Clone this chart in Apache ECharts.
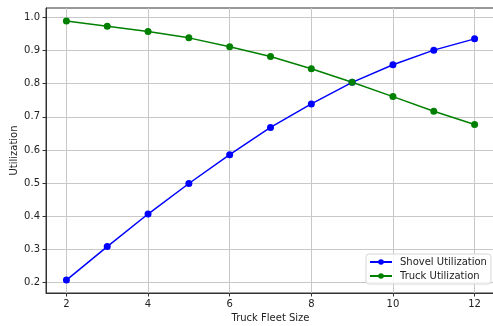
<!DOCTYPE html>
<html><head><meta charset="utf-8">
<script src="https://cdn.jsdelivr.net/npm/echarts@6/dist/echarts.min.js"></script>
<style>html,body{margin:0;padding:0;background:#fff}#c{width:493px;height:326px}</style>
</head><body><div id="c"></div>
<script>
const fleetSize = [2, 3, 4, 5, 6, 7, 8, 9, 10, 11, 12];
const shovelUtil = [0.208, 0.309, 0.407, 0.499, 0.586, 0.668, 0.739, 0.804, 0.857, 0.901, 0.935];
const truckUtil = [0.989, 0.973, 0.957, 0.938, 0.911, 0.882, 0.845, 0.804, 0.761, 0.717, 0.677];
const xTicks = [2, 4, 6, 8, 10, 12];
const yTicks = [0.2, 0.3, 0.4, 0.5, 0.6, 0.7, 0.8, 0.9, 1.0];

const font = 'DejaVu Sans';
const chart = echarts.init(document.getElementById('c'), null, {renderer: 'canvas'});
const pair = (xs, ys) => xs.map((x, i) => [x, ys[i]]);
chart.setOption({
  animation: false,
  textStyle: {fontFamily: font},
  grid: {left: 46, top: 8, width: 449, height: 285, outerBoundsMode: 'none', containLabel: false,
    show: true, borderColor: '#333', borderWidth: 1, backgroundColor: 'transparent'},
  xAxis: {
    type: 'value', min: 1.5, max: 12.5,
    name: 'Truck Fleet Size', nameLocation: 'middle', nameGap: 20, nameMoveOverlap: false,
    nameTextStyle: {fontFamily: font, fontSize: 10, color: '#222'},
    axisLine: {show: true, lineStyle: {color: '#333', width: 1}},
    axisTick: {show: true, length: 3.5, customValues: xTicks, lineStyle: {color: '#333'}},
    axisLabel: {customValues: xTicks, fontFamily: font, fontSize: 10, color: '#222', margin: 6},
    splitLine: {show: true, lineStyle: {color: '#c8c8c8', width: 1}}
  },
  yAxis: {
    type: 'value', min: 0.169, max: 1.028,
    name: 'Utilization', nameLocation: 'middle', nameGap: 27, nameRotate: 90, nameMoveOverlap: false,
    nameTextStyle: {fontFamily: font, fontSize: 10, color: '#222'},
    axisLine: {show: true, lineStyle: {color: '#333', width: 1}},
    axisTick: {show: true, length: 3.5, customValues: yTicks, lineStyle: {color: '#333'}},
    axisLabel: {customValues: yTicks, fontFamily: font, fontSize: 10, color: '#222', margin: 6,
      formatter: v => v.toFixed(1)},
    splitLine: {show: true, lineStyle: {color: '#c8c8c8', width: 1}}
  },
  legend: {
    orient: 'vertical', left: 366, top: 254,
    padding: [3, 4, 3, 3], itemGap: 4, itemWidth: 22, itemHeight: 7,
    backgroundColor: 'rgba(255,255,255,0.8)', borderColor: '#d6d6d6', borderWidth: 1, borderRadius: 3,
    textStyle: {fontFamily: font, fontSize: 10, color: '#222', padding: [0, 0, 0, 3]},
    data: ['Shovel Utilization', 'Truck Utilization']
  },
  series: [
    {name: 'Shovel Utilization', type: 'line', data: pair(fleetSize, shovelUtil),
     symbol: 'circle', symbolSize: 7, color: '#0000ff', lineStyle: {width: 1.5, color: '#0000ff'}, itemStyle: {color: '#0000ff'}},
    {name: 'Truck Utilization', type: 'line', data: pair(fleetSize, truckUtil),
     symbol: 'circle', symbolSize: 7, color: '#008000', lineStyle: {width: 1.5, color: '#008000'}, itemStyle: {color: '#008000'}}
  ]
});
</script></body></html>
